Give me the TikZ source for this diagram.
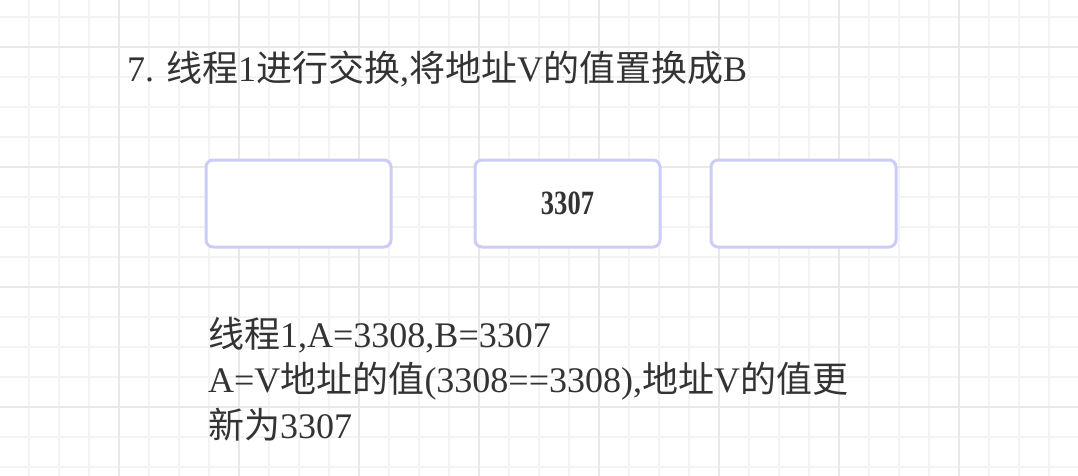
\documentclass[tikz,border=0pt]{standalone}
\usepackage{fontspec}
\setmainfont{Liberation Serif}
\newfontfamily\cjk{Noto Sans CJK SC}
\usepackage{tikz}
\usetikzlibrary{%
  positioning
 ,calc
}
\definecolor{txtgray}{HTML}{333333}
\definecolor{gridlight}{HTML}{F3F3F3}
\definecolor{griddark}{HTML}{E8E8E8}
\definecolor{cellborder}{HTML}{CCCCF8}
\newcommand{\zh}[1]{{\cjk #1}}
\tikzstyle{gridminor}=[draw=gridlight,line width=2pt]
\tikzstyle{gridmajor}=[draw=griddark,line width=2pt]
\tikzstyle{cell}=[draw=cellborder,line width=3pt,fill=white,rounded corners=7pt,
  minimum width=185pt,minimum height=87pt,inner sep=0pt]
\tikzstyle{txt}=[anchor=base west,inner sep=0pt,text=txtgray,
  font=\fontsize{36}{44}\selectfont]

\begin{document}
\begin{tikzpicture}[x=1pt,y=-1pt]
      \useasboundingbox (0,0) rectangle (1078,476);
      \clip (0,0) rectangle (1078,476);
      \fill[white] (0,0) rectangle (1078,476);
      % grid
      \foreach \x in {29,59,...,1078} \draw[gridminor] (\x,0) -- (\x,476);
      \foreach \y in {17,47,...,476} \draw[gridminor] (0,\y) -- (1078,\y);
      \foreach \x in {119,239,...,1078} \draw[gridmajor] (\x,0) -- (\x,476);
      \foreach \y in {47,167,...,476} \draw[gridmajor] (0,\y) -- (1078,\y);
      % title
      \node[txt] (title) at (127,82) {7. \zh{线程}1\zh{进行交换},\zh{将地址}V\zh{的值置换成}B};
      % memory cells
      \node[cell] (c_0) at (298.5,203.5) {};
      \node[cell,right=81pt of c_0] (c_1) {\scalebox{0.78}[1]{\fontsize{34}{38}\selectfont\bfseries\color{txtgray}3307}};
      \node[cell,right=48pt of c_1] (c_2) {};
      % explanation
      \node[txt] (l_0) at (208,347) {\zh{线程}1,A=3308,B=3307};
      \node[txt] (l_1) at (208,392) {A=V\zh{地址的值}(3308==3308),\zh{地址}V\zh{的值更}};
      \node[txt] (l_2) at (208,438) {\zh{新为}3307};
    \end{tikzpicture}
\end{document}
